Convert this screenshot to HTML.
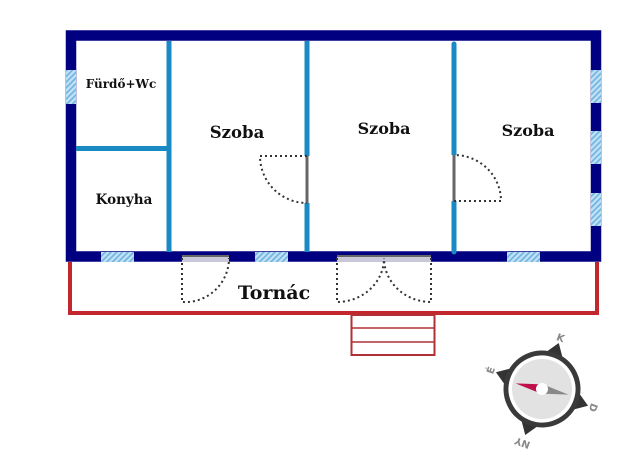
<!DOCTYPE html>
<html><head><meta charset="utf-8"><style>html,body{margin:0;padding:0;background:#fff}svg{display:block}</style></head>
<body>
<svg width="640" height="473" viewBox="0 0 640 473" xmlns="http://www.w3.org/2000/svg">
<defs>
<pattern id="h" width="4" height="4" patternUnits="userSpaceOnUse" patternTransform="rotate(45)">
<rect width="4" height="4" fill="#bfe0f5"/><rect width="1.6" height="4" fill="#6fb3e0"/>
</pattern>
</defs>
<polyline points="70,262 70,313 597,313 597,262" fill="none" stroke="#c1272d" stroke-width="4"/>
<rect x="351.5" y="315" width="83" height="40" fill="none" stroke="#b03035" stroke-width="2"/>
<line x1="351" y1="328" x2="435" y2="328" stroke="#b03035" stroke-width="1.5"/>
<line x1="351" y1="342" x2="435" y2="342" stroke="#b03035" stroke-width="1.5"/>
<rect x="71" y="35.5" width="525" height="221" fill="none" stroke="#000080" stroke-width="10.5"/>
<rect x="66" y="70" width="10" height="34" fill="url(#h)"/>
<rect x="591" y="70" width="10" height="33" fill="url(#h)"/>
<rect x="591" y="131" width="10" height="33" fill="url(#h)"/>
<rect x="591" y="193" width="10" height="33" fill="url(#h)"/>
<rect x="101" y="252" width="33" height="10" fill="url(#h)"/>
<rect x="255" y="252" width="33" height="10" fill="url(#h)"/>
<rect x="507" y="252" width="33" height="10" fill="url(#h)"/>
<rect x="182" y="256" width="47" height="6" fill="#c8c8d8"/><rect x="182" y="255" width="47" height="2" fill="#666"/>
<rect x="337" y="256" width="94" height="6" fill="#c8c8d8"/><rect x="337" y="255" width="94" height="2" fill="#666"/>
<g stroke="#1a8ac4" stroke-width="5">
<line x1="169" y1="41" x2="169" y2="252"/>
<line x1="307" y1="41" x2="307" y2="252"/>
<line x1="454" y1="44" x2="454" y2="252" stroke-linecap="round"/>
<line x1="76" y1="148.5" x2="167" y2="148.5"/>
</g>
<rect x="304.5" y="156" width="5" height="47" fill="#fff"/><rect x="305.5" y="156" width="3" height="47" fill="#666"/>
<rect x="451.5" y="155" width="5" height="46" fill="#fff"/><rect x="452.5" y="155" width="3" height="46" fill="#666"/>
<g fill="none" stroke="#333" stroke-width="2" stroke-dasharray="2,3">
<path d="M182,258 V302 A44,44 0 0 0 229,258"/>
<path d="M337,258 V302 A47,44 0 0 0 384,258"/>
<path d="M431,258 V302 A47,44 0 0 1 384,258"/>
<path d="M307,156 H260 A47,47 0 0 0 307,203"/>
<path d="M454,201 H501 A47,46 0 0 0 454,155"/>
</g>
<g font-family="DejaVu Serif, serif" font-weight="bold" fill="#111">
<text x="121" y="88" font-size="12" text-anchor="middle">Fürdő+Wc</text>
<text x="124" y="204" font-size="13.5" text-anchor="middle">Konyha</text>
<text x="237" y="138" font-size="16.5" text-anchor="middle">Szoba</text>
<text x="384" y="134" font-size="16" text-anchor="middle">Szoba</text>
<text x="528" y="136" font-size="16" text-anchor="middle">Szoba</text>
<text x="274" y="299" font-size="19" text-anchor="middle">Tornác</text>
</g>
<g transform="translate(542,389) rotate(20)">
<g fill="#333">
<polygon points="-11,-33 0,-49 11,-33"/>
<polygon points="33,-11 49,0 33,11"/>
<polygon points="-11,33 0,49 11,33"/>
<polygon points="-33,-11 -49,0 -33,11"/>
</g>
<circle r="36" fill="#fff" stroke="#3a3a3a" stroke-width="5"/>
<circle r="30" fill="#e2e2e2"/>
<g transform="rotate(-8)">
<polygon points="-27,0 -4,-4 -4,4" fill="#c0104a"/>
<polygon points="27,0 4,-4 4,4" fill="#888"/>
<circle r="6" fill="#fff"/>
</g>
<g font-family="DejaVu Sans, sans-serif" font-weight="bold" font-size="10" fill="#888" text-anchor="middle">
<text x="0" y="-51">K</text>
<text x="55" y="4" transform="rotate(90 55 0)">D</text>
<text x="0" y="62" transform="rotate(180 0 58)">NY</text>
<text x="-55" y="4" transform="rotate(-90 -55 0)">É</text>
</g>
</g>
</svg>
</body></html>
